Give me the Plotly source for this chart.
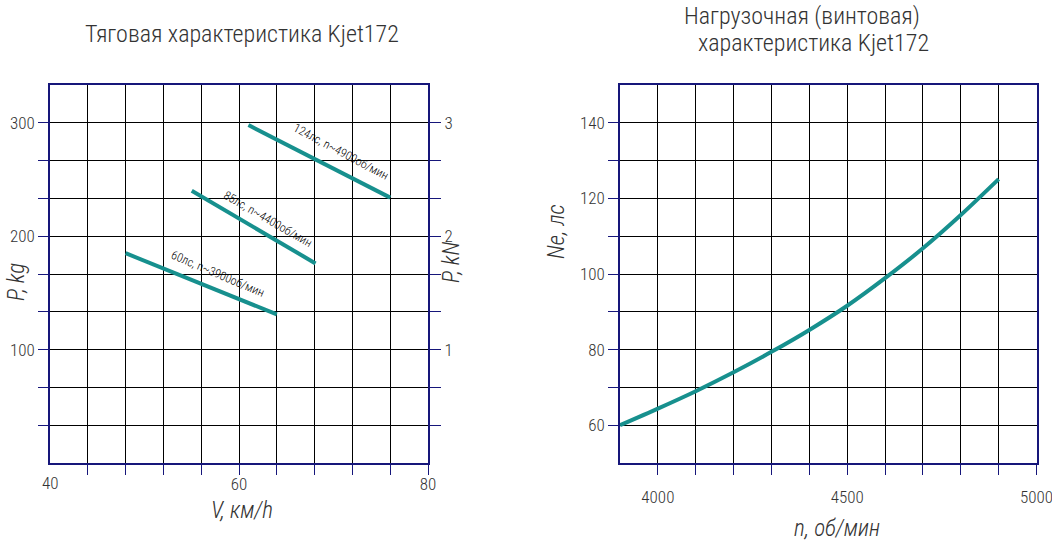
import plotly.graph_objects as go

# ---------------- data ----------------
# Left chart: traction characteristic (V km/h -> P kg)
v_124 = [61.0, 76.0]
p_124 = [298, 234]
v_85 = [55.0, 68.1]
p_85 = [240, 176]
v_60 = [48.0, 64.0]
p_60 = [185, 131]
label_124 = "124лс, n~4900об/мин"
label_85 = "85лс, n~4400об/мин"
label_60 = "60лс, n~3900об/мин"

# Right chart: load (propeller) characteristic (n rpm -> Ne hp)
n_rpm = [3900, 4000, 4100, 4200, 4300, 4400, 4500, 4600, 4700, 4800, 4900]
ne_hp = [60.0, 64.4, 69.0, 74.0, 79.4, 85.2, 91.6, 98.9, 106.8, 115.6, 125.1]

# Axis tick labels
v_ticks = [40, 60, 80]
kg_ticks = [100, 200, 300]
kn_ticks = [1, 2, 3]
n_ticks = [4000, 4500, 5000]
ne_ticks = [60, 80, 100, 120, 140]

title_left = "Тяговая характеристика Kjet172"
title_right_1 = "Нагрузочная (винтовая)"
title_right_2 = "характеристика Kjet172"

# ---------------- style ----------------
W, H = 1052, 541
FONT = "Roboto Condensed, Liberation Sans Narrow, Roboto, DejaVu Sans Condensed, sans-serif"
NAVY = "#16167a"
TEAL = "#17908e"
TXT = "#333333"


def px(xp):
    return xp / W


def py(yp):
    return 1 - yp / H


def grid_axis(gridvals, labelled):
    text = []
    for g in gridvals:
        match = [t for t in labelled if abs(t - g) < 1e-6]
        text.append(str(match[0]) if match else "")
    return gridvals, text


def f(size, color=TXT):
    return dict(family=FONT, size=size, color=color, weight=300)


fig = go.Figure()

for v, p in ((v_124, p_124), (v_85, p_85), (v_60, p_60)):
    fig.add_trace(go.Scatter(x=v, y=p, mode="lines", line=dict(color=TEAL, width=4),
                             xaxis="x", yaxis="y", showlegend=False, hoverinfo="skip"))
fig.add_trace(go.Scatter(x=[v_60[0]], y=[p_60[0] / 100], mode="markers", marker=dict(opacity=0),
                         xaxis="x", yaxis="y2", showlegend=False, hoverinfo="skip"))
fig.add_trace(go.Scatter(x=n_rpm, y=ne_hp, mode="lines",
                         line=dict(color=TEAL, width=4, shape="spline", smoothing=0.8),
                         xaxis="x2", yaxis="y3", showlegend=False, hoverinfo="skip"))

ydom = [py(463), py(85)]

v_grid = [40 + 4 * i for i in range(1, 11)]
kg_grid = [100 / 3 * i for i in range(1, 10)]
kn_grid = [1 / 3 * i for i in range(1, 10)]
n_grid = [3900 + 100 * i for i in range(1, 12)]
ne_grid = [50 + 10 * i for i in range(1, 10)]

vt, vtt = grid_axis(v_grid, v_ticks)
kgt, kgtt = grid_axis(kg_grid, kg_ticks)
knt, kntt = grid_axis(kn_grid, kn_ticks)
nt, ntt = grid_axis(n_grid, n_ticks)
net, nett = grid_axis(ne_grid, ne_ticks)

common = dict(showline=True, linecolor=NAVY, linewidth=1.5, mirror=True,
              showgrid=True, gridcolor="black", gridwidth=1,
              ticks="outside", ticklen=10, tickcolor=NAVY, tickwidth=1.2,
              tickfont=f(17), zeroline=False, tickmode="array", automargin=False,
              ticklabeloverflow="allow")

fig.update_layout(
    width=W, height=H, autosize=False,
    margin=dict(l=0, r=0, t=0, b=0),
    paper_bgcolor="white", plot_bgcolor="white",
    xaxis=dict(domain=[px(50), px(428)], range=[40, 80], anchor="y",
               tickvals=vt, ticktext=vtt, ticklabelstandoff=-5, **common),
    yaxis=dict(domain=ydom, range=[0, 1000 / 3], anchor="x",
               tickvals=kgt, ticktext=kgtt, **common),
    yaxis2=dict(range=[0, 10 / 3], overlaying="y", side="right", anchor="x",
                tickmode="array", tickvals=knt, ticktext=kntt, showgrid=False,
                showline=False, zeroline=False, ticks="outside", ticklen=12,
                tickcolor=NAVY, tickwidth=1.2, tickfont=f(17), automargin=False),
    xaxis2=dict(domain=[px(620), px(1036.5)], range=[3900, 5000], anchor="y3",
                tickvals=nt, ticktext=ntt, ticklabelstandoff=8, **common),
    yaxis3=dict(domain=ydom, range=[50, 150], anchor="x2",
                tickvals=net, ticktext=nett, **common),
)
# label "40" at the left corner (no tick mark drawn there)
fig.add_annotation(x=40, y=0, xref="x", yref="y", text=str(v_ticks[0]), showarrow=False,
                   yanchor="top", yshift=-8, font=f(17))

ann = [
    dict(x=242, y=34, text=title_left, size=24, italic=False),
    dict(x=802, y=16, text=title_right_1, size=24, italic=False),
    dict(x=813, y=43, text=title_right_2, size=24, italic=False),
    dict(x=242, y=510, text="V, км/h", size=23, italic=True),
    dict(x=16, y=282, text="P, kg", size=23, italic=True, angle=-90),
    dict(x=452, y=263, text="P, kN", size=23, italic=True, angle=-90),
    dict(x=556, y=232, text="Ne, лс", size=23, italic=True, angle=-90),
    dict(x=837, y=528, text="n, об/мин", size=23, italic=True),
]

for a in ann:
    txt = "<i>" + a["text"] + "</i>" if a["italic"] else a["text"]
    fig.add_annotation(x=px(a["x"]), y=py(a["y"]), xref="paper", yref="paper", text=txt,
                       showarrow=False, textangle=a.get("angle", 0),
                       xanchor="center", yanchor="middle", font=f(a["size"]))

# line labels, placed relative to the line midpoints
for v, p, lab, ang, dx, dy in ((v_124, p_124, label_124, 28, 22, 9),
                                (v_85, p_85, label_85, 30, 14, 8),
                                (v_60, p_60, label_60, 23, 17, 10)):
    fig.add_annotation(x=sum(v) / 2, y=sum(p) / 2, xref="x", yref="y", text=lab,
                       showarrow=False, textangle=ang, xshift=dx, yshift=dy,
                       font=f(12, "black"))

post = (
    "document.documentElement.style.overflow='hidden';"
    "document.body.style.margin='0';"
    "document.body.style.overflow='hidden';"
)
fig.write_html("out.html",
               config={"responsive": False, "displayModeBar": False},
               post_script=post)
